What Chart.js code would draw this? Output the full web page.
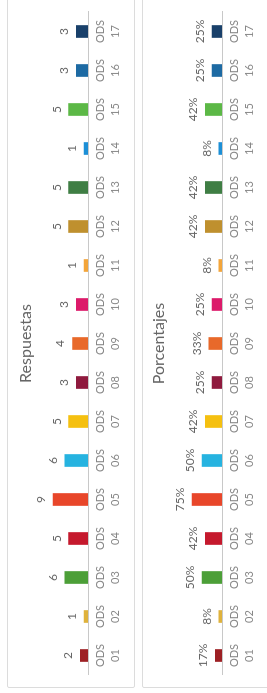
<!DOCTYPE html>
<html>
<head>
<meta charset="utf-8">
<script src="https://cdn.jsdelivr.net/npm/chart.js@4/dist/chart.umd.min.js"></script>
<style>
html, body { margin:0; padding:0; overflow:hidden; background:#fff; }
#wrap {
    position:absolute; left:0; top:0; width:693px; height:267px;
    transform-origin:0 0;
    transform:translateY(693px) rotate(-90deg);
}
.panel { position:absolute; border:1px solid #dcdcdc; border-radius:2px; }
canvas { position:absolute; left:0; }
</style>
</head>
<body>
<div id="wrap">
    <div class="panel" style="left:5px;top:7px;width:720px;height:126px"></div>
    <div class="panel" style="left:5px;top:142px;width:720px;height:160px"></div>
    <canvas id="respChart" width="693" height="135" style="top:0"></canvas>
    <canvas id="pctChart" width="693" height="133" style="top:134px"></canvas>
</div>
<script>
let odsCodes = ['01','02','03','04','05','06','07','08','09','10','11','12','13','14','15','16','17'];
let respuestas = [2,1,6,5,9,6,5,3,4,3,1,5,5,1,5,3,3];
let porcentajes = [17,8,50,42,75,50,42,25,33,25,8,42,42,8,42,25,25];
let odsColors = ['#9d2024','#dfb23c','#4c9f38','#c5192d','#e8462a','#26b3e0','#f5c010','#8f1a3e',
                 '#e8692a','#dc1a6a','#f3a53a','#bf902e','#3f7e44','#1c8fd6','#5cb846','#1d6aa3','#19406a'];

let labels = odsCodes.map(c => ['ODS', c]);

// texto encima de cada barra
const valueLabels = {
    id: 'valueLabels',
    afterDatasetsDraw(chart, args, opts) {
        const ctx = chart.ctx;
        const meta = chart.getDatasetMeta(0);
        const values = chart.data.datasets[0].data;
        ctx.save();
        ctx.font = '12px Lato';
        ctx.fillStyle = '#666';
        ctx.textAlign = 'center';
        ctx.textBaseline = 'middle';
        meta.data.forEach((bar, i) => {
            ctx.fillText(values[i] + opts.suffix, bar.x, bar.y - 12);
        });
        ctx.restore();
    }
};

function makeChart(canvas, title, values, max, suffix, padTop, padBottom) {
    let data = {
        labels: labels,
        datasets: [{
            label: title,
            data: values,
            backgroundColor: odsColors,
            barThickness: 12
        }]
    };
    let config = {
        type: 'bar',
        data: data,
        options: {
            responsive: false,
            animation: false,
            layout: { padding: { left: 18, right: 12, top: 0, bottom: padBottom } },
            plugins: {
                legend: { display: false },
                tooltip: { enabled: false },
                title: {
                    display: true,
                    text: title,
                    color: '#666',
                    font: { family: 'Lato', size: 16, weight: 'normal' },
                    padding: { top: padTop, bottom: 14 }
                },
                valueLabels: { suffix: suffix }
            },
            scales: {
                x: {
                    grid: { display: false, drawTicks: false },
                    border: { display: true, color: '#c8c8c8' },
                    ticks: {
                        color: '#888',
                        padding: 5,
                        maxRotation: 0,
                        autoSkip: false,
                        font: { family: 'Lato', size: 11, lineHeight: 1.36 }
                    }
                },
                y: { display: false, min: 0, max: max }
            }
        },
        plugins: [valueLabels]
    };
    return new Chart(canvas, config);
}

let respChart = makeChart(document.getElementById('respChart'), 'Respuestas', respuestas, 10, '', 16, 7);
let pctChart = makeChart(document.getElementById('pctChart'), 'Porcentajes', porcentajes, 100, '%', 15, 5);
</script>
</body>
</html>
